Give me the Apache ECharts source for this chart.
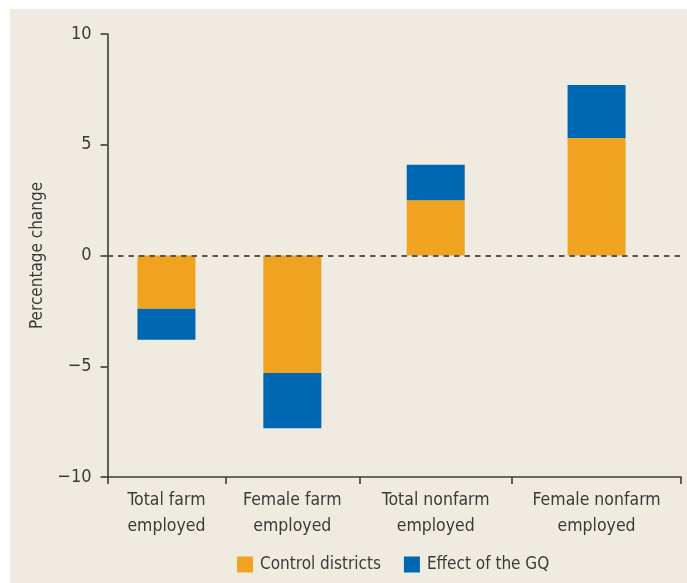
<!DOCTYPE html>
<html>
<head>
<meta charset="utf-8">
<script src="https://cdn.jsdelivr.net/npm/echarts@6/dist/echarts.min.js"></script>
<style>
    body { margin: 0; background: #fff; }
    #chart { position: absolute; left: 10px; top: 9px; width: 677px; height: 574px; }
</style>
</head>
<body>
<div id="chart"></div>
<script>
    // 类别与数值
    var categories = ['Total farm\nemployed', 'Female farm\nemployed', 'Total nonfarm\nemployed', 'Female nonfarm\nemployed'];
    var controlValues = [-2.4, -5.3, 2.5, 5.3];
    var effectValues = [-1.4, -2.5, 1.6, 2.4];
    var seriesNames = ['Control districts', 'Effect of the GQ'];
    var yTicks = [-10, -5, 0, 5, 10];

    // 各类别所占宽度（原图类别间距不等）
    var categoryWeights = [118, 134, 153, 169];

    var bounds = [0];
    var centers = [];
    for (var i = 0; i < categoryWeights.length; i++) {
        centers.push(bounds[i] + categoryWeights[i] / 2);
        bounds.push(bounds[i] + categoryWeights[i]);
    }

    // 数据放成 [数值, 类别中心]，配合 encode，使堆叠作用在 y 上
    function pairs(values) {
        var out = [];
        for (var i = 0; i < values.length; i++) {
            out.push([values[i], centers[i]]);
        }
        return out;
    }

    var font = "'Liberation Sans Narrow', 'DejaVu Sans Condensed', sans-serif";
    var textColor = '#3a3a3a';
    var axisColor = '#3c3c3c';

    var chart = echarts.init(document.getElementById('chart'));

    var option = {
        backgroundColor: '#efebe1',
        animation: false,
        textStyle: { fontFamily: font },
        grid: { left: 97.5, right: 6, top: 25, bottom: 106 },
        legend: {
            left: 227,
            top: 547,
            padding: 0,
            itemWidth: 16,
            itemHeight: 16,
            itemGap: 23,
            icon: 'rect',
            data: seriesNames,
            textStyle: { fontFamily: font, fontSize: 17, color: textColor, padding: [0, 0, 0, 2] }
        },
        xAxis: {
            type: 'value',
            min: bounds[0],
            max: bounds[bounds.length - 1],
            splitLine: { show: false },
            axisLine: { onZero: false, lineStyle: { color: axisColor, width: 1.6 } },
            axisTick: {
                customValues: bounds,
                length: 7,
                lineStyle: { color: axisColor, width: 1.6 }
            },
            axisLabel: {
                customValues: centers,
                margin: 10,
                fontFamily: font,
                fontSize: 17.5,
                lineHeight: 26,
                color: textColor,
                formatter: function (val) {
                    for (var i = 0; i < centers.length; i++) {
                        if (Math.abs(centers[i] - val) < 0.01) return categories[i];
                    }
                    return '';
                }
            }
        },
        yAxis: {
            type: 'value',
            min: yTicks[0],
            max: yTicks[yTicks.length - 1],
            interval: 5,
            name: 'Percentage change',
            nameLocation: 'middle',
            nameGap: 53,
            nameTextStyle: { fontFamily: font, fontSize: 17, color: textColor },
            splitLine: { show: false },
            axisLine: { show: true, onZero: false, lineStyle: { color: axisColor, width: 1.6 } },
            axisTick: { show: true, length: 7, lineStyle: { color: axisColor, width: 1.6 } },
            axisLabel: {
                margin: 16,
                fontFamily: font,
                fontSize: 18,
                color: textColor,
                formatter: function (v) {
                    return v < 0 ? '\u2212' + Math.abs(v) : String(v);
                }
            }
        },
        series: [{
            name: seriesNames[0],
            type: 'bar',
            stack: 'total',
            barWidth: 58,
            encode: { x: 1, y: 0 },
            itemStyle: { color: '#f0a221' },
            data: pairs(controlValues)
        }, {
            name: seriesNames[1],
            type: 'bar',
            stack: 'total',
            barWidth: 58,
            encode: { x: 1, y: 0 },
            itemStyle: { color: '#0067b2' },
            data: pairs(effectValues),
            // 零线（虚线）
            markLine: {
                silent: true,
                symbol: ['none', 'none'],
                label: { show: false },
                lineStyle: { color: '#555', width: 2, type: [5.5, 5] },
                data: [{ yAxis: 0 }]
            }
        }]
    };

    chart.setOption(option);
</script>
</body>
</html>
